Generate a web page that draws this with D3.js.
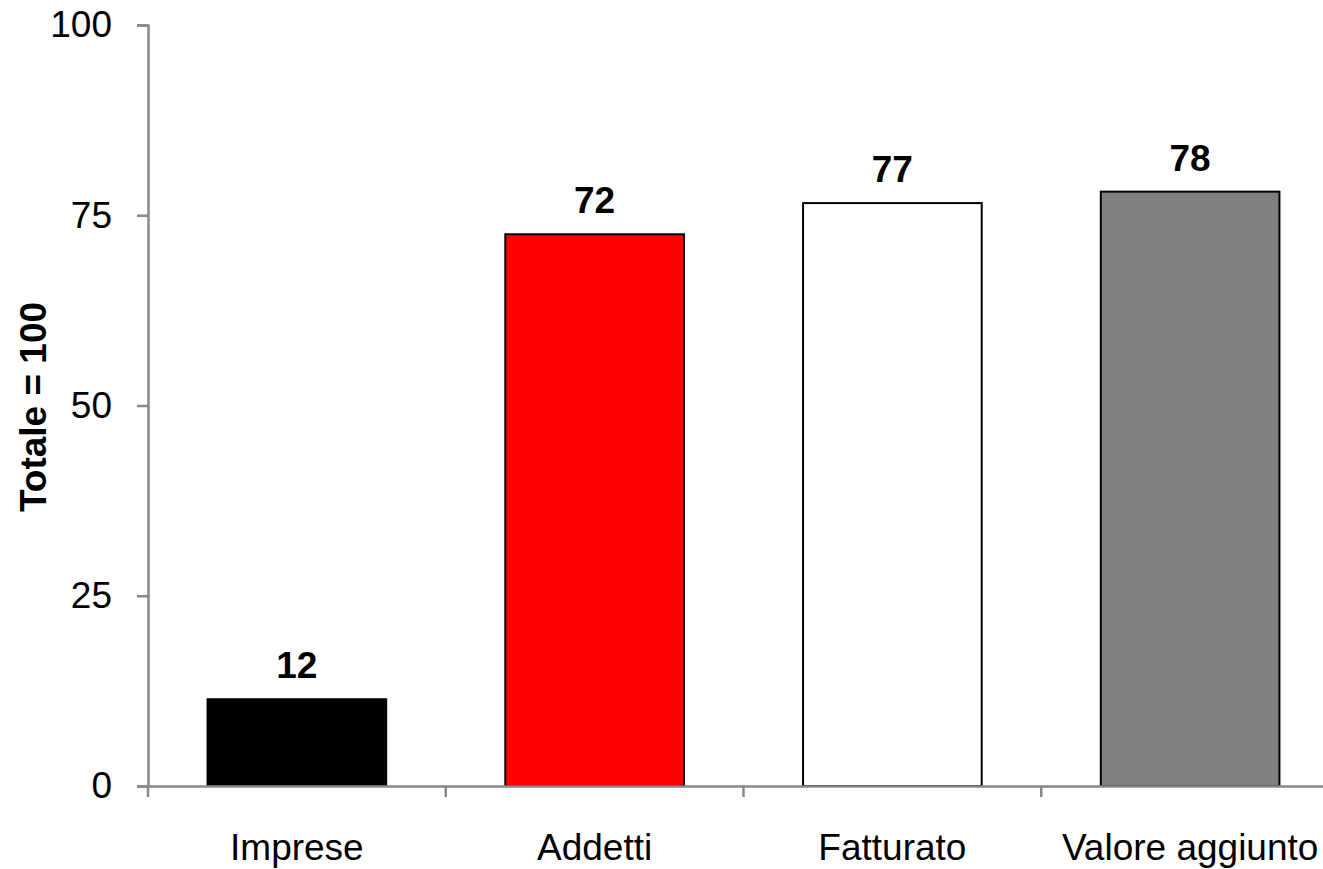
<!DOCTYPE html>
<html><head><meta charset="utf-8">
<script src="https://cdn.jsdelivr.net/npm/d3@7"></script>
<style>body{margin:0;background:#fff;}svg{display:block;font-family:"Liberation Sans",Arial,sans-serif;}</style>
</head><body>
<script>
const categories = ["Imprese","Addetti","Fatturato","Valore aggiunto"];
const values = [11.4, 72.5, 76.6, 78.1];
const valueLabels = ["12","72","77","78"];
const colors = ["#000000","#ff0000","#ffffff","#808080"];
const yTicks = [0,25,50,75,100];
const yTitle = "Totale = 100";

const W = 1323, H = 869;
const svg = d3.select("body").append("svg").attr("width", W).attr("height", H);
const x0 = 148, x1 = 1339, yTop = 25, yBot = 786;
const x = d3.scaleBand().domain(categories).range([x0, x1]).paddingInner(0).paddingOuter(0);
const y = d3.scaleLinear().domain([0,100]).range([yBot, yTop]);
const axisColor = "#898989";
const bw = x.bandwidth()*0.6;
const FS = 37;

// bars
svg.selectAll("rect.bar").data(categories).join("rect")
  .attr("x", d => x(d) + (x.bandwidth()-bw)/2)
  .attr("y", (d,i) => y(values[i]))
  .attr("width", bw)
  .attr("height", (d,i) => yBot - y(values[i]))
  .attr("fill", (d,i) => colors[i])
  .attr("stroke", "#000").attr("stroke-width", 2);

// value labels
svg.selectAll("text.val").data(categories).join("text")
  .attr("x", d => x(d) + x.bandwidth()/2)
  .attr("y", (d,i) => y(values[i]) - 21)
  .attr("text-anchor","middle")
  .attr("font-size", FS).attr("font-weight","bold").attr("fill","#000")
  .text((d,i) => valueLabels[i]);

// y axis
const ya = svg.append("g").attr("transform", `translate(${x0},0)`)
  .call(d3.axisLeft(y).tickValues(yTicks).tickSize(11).tickPadding(25));
ya.attr("font-size", FS).attr("font-family", "Liberation Sans, Arial, sans-serif");
ya.select(".domain").attr("stroke", axisColor).attr("stroke-width", 2.5);
ya.selectAll(".tick line").attr("stroke", axisColor).attr("stroke-width", 2.5);
ya.selectAll(".tick text").attr("fill","#000");

// x axis
const xa = svg.append("g").attr("transform", `translate(0,${yBot})`)
  .call(d3.axisBottom(x).tickSize(0).tickPadding(48));
xa.attr("font-size", FS).attr("font-family", "Liberation Sans, Arial, sans-serif");
xa.select(".domain").attr("stroke", axisColor).attr("stroke-width", 2.5);
xa.selectAll(".tick text").attr("fill","#000");
// category boundary ticks
const bounds = categories.map(c => x(c)).concat([x1]);
svg.selectAll("line.xt").data(bounds).join("line")
  .attr("x1", d => d).attr("x2", d => d)
  .attr("y1", yBot).attr("y2", yBot + 11)
  .attr("stroke", axisColor).attr("stroke-width", 2.5);

// y title
svg.append("text")
  .attr("transform", `translate(46,407) rotate(-90)`)
  .attr("text-anchor","middle")
  .attr("font-size", FS).attr("font-weight","bold").attr("fill","#000")
  .text(yTitle);
</script>
</body></html>
